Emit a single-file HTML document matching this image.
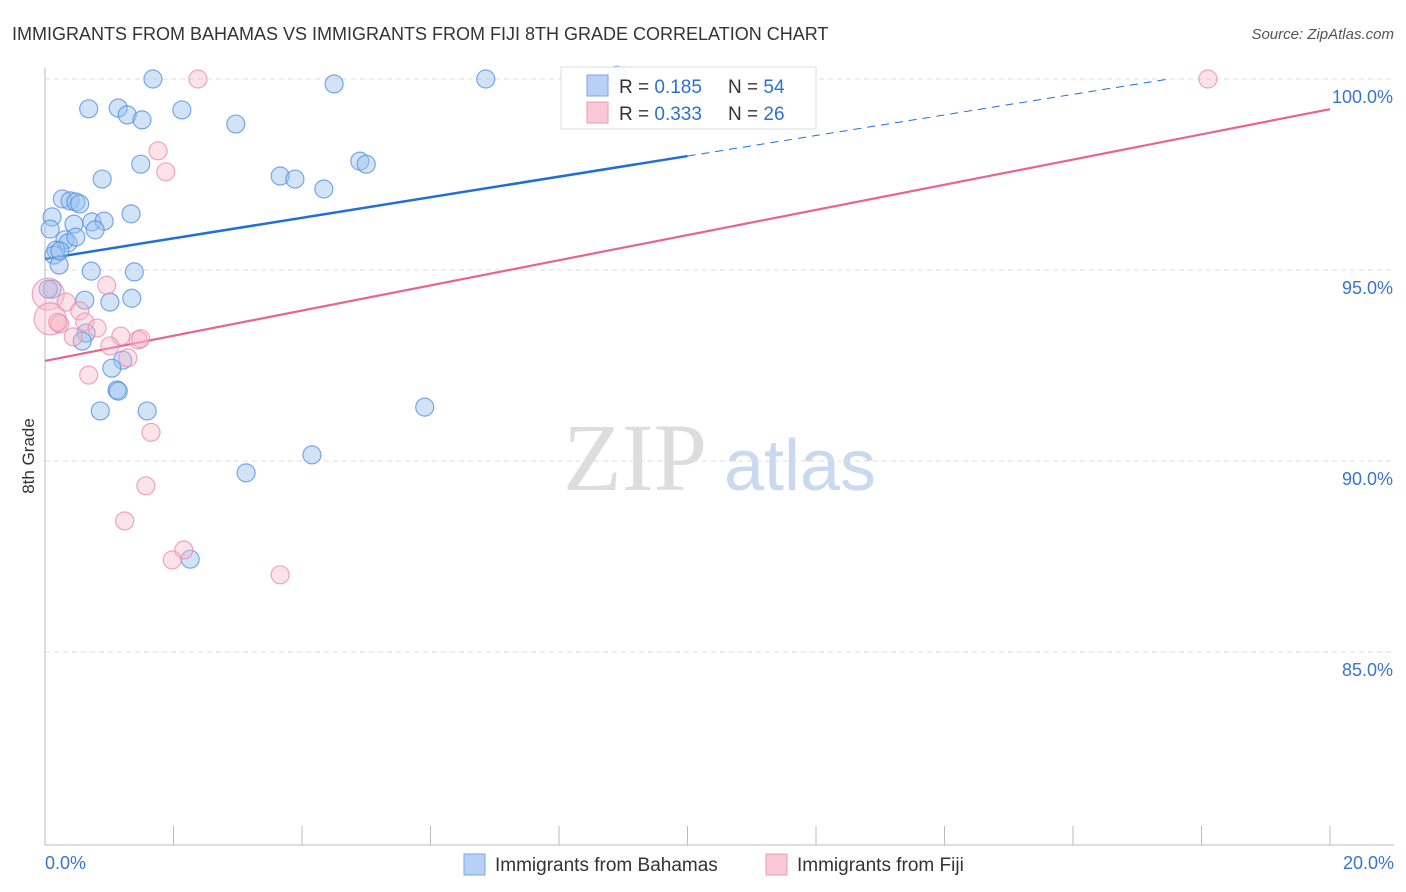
<!DOCTYPE html>
<html><head><meta charset="utf-8"><style>
body{margin:0;background:#fff;font-family:"Liberation Sans",sans-serif}
svg{display:block}
</style></head><body>
<svg id="chart" width="1406" height="892" viewBox="0 0 1406 892">
<text x="12" y="40" font-size="18" fill="#333">IMMIGRANTS FROM BAHAMAS VS IMMIGRANTS FROM FIJI 8TH GRADE CORRELATION CHART</text>
<text x="1394" y="39" font-size="15" fill="#555" font-style="italic" text-anchor="end">Source: ZipAtlas.com</text>
<text x="34" y="456" font-size="17" fill="#333" text-anchor="middle" transform="rotate(-90 34 456)">8th Grade</text>
<g><text x="635" y="490" font-size="96" font-family="Liberation Serif,serif" fill="#ddd" text-anchor="middle">ZIP</text><text x="800" y="490" font-size="72" fill="#c9d9f0" text-anchor="middle">atlas</text></g>
<g id="grid"></g><g id="axes"></g><g id="lines"></g><g id="pts"></g>
<g>
<rect x="561" y="67" width="255" height="62" fill="#fff" fill-opacity="0.9" stroke="#ddd"/>
<rect x="587" y="75" width="21" height="21" fill="#b8d0f4" stroke="#7aa6e6"/>
<rect x="587" y="102" width="21" height="21" fill="#f9c8d6" stroke="#ee9ab5"/>
<text x="619" y="93" font-size="19" fill="#333">R = <tspan fill="#2f6fd0">0.185</tspan><tspan x="728">N = </tspan><tspan fill="#2f6fd0">54</tspan></text>
<text x="619" y="120" font-size="19" fill="#333">R = <tspan fill="#2f6fd0">0.333</tspan><tspan x="728">N = </tspan><tspan fill="#2f6fd0">26</tspan></text>
</g>
<g>
<rect x="464" y="854" width="21" height="21" fill="#b8d0f4" stroke="#7aa6e6"/>
<text x="495" y="871" font-size="19" fill="#333">Immigrants from Bahamas</text>
<rect x="766" y="854" width="21" height="21" fill="#f9c8d6" stroke="#ee9ab5"/>
<text x="797" y="871" font-size="19" fill="#333">Immigrants from Fiji</text>
</g>
</svg>
<script>
const yTicks=[100,95,90,85];
const yTickLabels=["100.0%","95.0%","90.0%","85.0%"];
const xTickLabels=["0.0%","20.0%"];
const bahamasX=[1.68,4.5,6.86,0.68,1.14,1.28,1.51,2.13,2.97,1.49,0.89,3.66,3.89,4.34,4.9,5.0,0.27,0.39,0.48,0.54,0.11,0.08,0.45,0.73,0.92,1.34,0.78,0.31,0.36,0.48,0.17,0.14,0.22,0.72,1.39,0.11,0.62,1.01,1.35,0.64,0.58,1.21,1.04,1.12,1.14,0.86,1.59,5.91,4.155,3.13,2.26,0.05,0.23,8.9];
const bahamasY=[100,99.87,100,99.22,99.24,99.06,98.93,99.19,98.82,97.77,97.38,97.46,97.38,97.12,97.85,97.77,96.86,96.81,96.78,96.73,96.39,96.07,96.2,96.26,96.28,96.47,96.05,95.79,95.71,95.86,95.52,95.39,95.13,94.97,94.95,94.5,94.21,94.16,94.26,93.35,93.14,92.64,92.43,91.86,91.83,91.31,91.31,91.41,90.16,89.69,87.43,94.5,95.5,100.1];
const fijiX=[2.38,18.1,1.76,1.88,0.05,0.08,0.33,0.54,0.62,0.81,0.23,0.44,1.18,1.45,1.01,1.29,0.68,1.65,1.57,1.24,2.16,1.98,3.66,0.96,1.49,0.2];
const fijiY=[100,100,98.12,97.57,94.37,93.72,94.16,93.93,93.64,93.48,93.59,93.25,93.27,93.17,93.01,92.7,92.25,90.75,89.35,88.43,87.67,87.41,87.02,94.6,93.2,93.63];
const fijiR=[9,9,9,9,16,16,9,9,9,9,9,9,9,9,9,9,9,9,9,9,9,9,9,9,9,9];
const bahamasTrend=[95.29,100.675];
const fijiTrend=[92.62,99.21];
const X=v=>45+v/20*1285;
const Y=v=>79+(100-v)*38.2;
const NS="http://www.w3.org/2000/svg";
function mk(parent,tag,attrs){const e=document.createElementNS(NS,tag);for(const k in attrs)e.setAttribute(k,attrs[k]);document.getElementById(parent).appendChild(e);return e;}
yTicks.forEach((t,i)=>{
 const l=mk('grid','line',{x1:45,x2:1394,y1:Y(t),y2:Y(t),stroke:'#ddd','stroke-dasharray':'5,4'});
 
 
 const tx=mk('axes','text',{x:1393,y:Y(t)+24,'font-size':18,fill:'#3b73d1','text-anchor':'end'});
 tx.textContent=yTickLabels[i];
 
 
});
const ax=mk('axes','line',{x1:45,x2:45,y1:68,y2:845,stroke:'#bbb'});


const bx=mk('axes','line',{x1:45,x2:1394,y1:845,y2:845,stroke:'#bbb'});


for(let i=0;i<=10;i++){const t=mk('axes','line',{x1:X(i*2),x2:X(i*2),y1:826,y2:845,stroke:'#bbb'});
 
 }
const xl0=mk('axes','text',{x:45,y:869,'font-size':18,fill:'#3b73d1'});xl0.textContent=xTickLabels[0];


const xl1=mk('axes','text',{x:1394,y:869,'font-size':18,fill:'#3b73d1','text-anchor':'end'});xl1.textContent=xTickLabels[1];


// trend lines
const bAt=x=>bahamasTrend[0]+(bahamasTrend[1]-bahamasTrend[0])*x/20;
const l1=mk('lines','line',{x1:X(0),y1:Y(bAt(0)),x2:X(10),y2:Y(bAt(10)),stroke:'#1f6fd6','stroke-width':2.5});


const xEnd=(100-bahamasTrend[0])/(bahamasTrend[1]-bahamasTrend[0])*20;
const l2=mk('lines','line',{x1:X(10),y1:Y(bAt(10)),x2:X(xEnd),y2:Y(100),stroke:'#1f6fd6','stroke-width':1,'stroke-dasharray':'8,6'});


const l3=mk('lines','line',{x1:X(0),y1:Y(fijiTrend[0]),x2:X(20),y2:Y(fijiTrend[1]),stroke:'#e8648c','stroke-width':2.2});


bahamasX.forEach((v,i)=>{const c=mk('pts','circle',{cx:X(v),cy:Y(bahamasY[i]),r:9,fill:'#9cc0f0','fill-opacity':0.45,stroke:'#4f8ee0','stroke-opacity':0.75,'stroke-width':1.2});
 
 });
fijiX.forEach((v,i)=>{const c=mk('pts','circle',{cx:X(v),cy:Y(fijiY[i]),r:fijiR[i],fill:'#f7b6c9','fill-opacity':0.4,stroke:'#ec8aaa','stroke-opacity':0.75,'stroke-width':1.2});
 
 });
</script>
</body></html>
